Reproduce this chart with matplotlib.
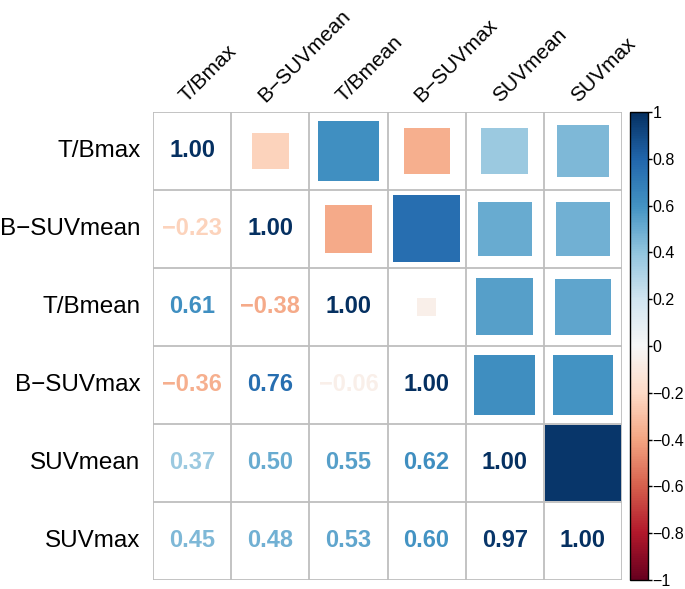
import numpy as np
import matplotlib.pyplot as plt
from matplotlib.patches import Rectangle
from matplotlib.colors import Normalize
import matplotlib as mpl

plt.rcParams['font.family'] = ['Liberation Sans', 'DejaVu Sans']

labels = ['T/Bmax', 'B\u2212SUVmean', 'T/Bmean', 'B\u2212SUVmax', 'SUVmean', 'SUVmax']

# lower triangle of the correlation matrix (row by row)
lower = [
    [],
    [-0.23],
    [0.61, -0.38],
    [-0.36, 0.76, -0.06],
    [0.37, 0.50, 0.55, 0.62],
    [0.45, 0.48, 0.53, 0.60, 0.97],
]

n = len(labels)
corr = np.eye(n)
for i, row in enumerate(lower):
    for j, v in enumerate(row):
        corr[i, j] = v
        corr[j, i] = v

cmap = plt.get_cmap('RdBu')
norm = Normalize(-1, 1)

fig = plt.figure(figsize=(6.85, 5.89), dpi=100)
ax = fig.add_axes([0.2234, 0.0153, 0.6847, 0.7946])
ax.set_xlim(0, n)
ax.set_ylim(n, 0)
ax.axis('off')

# grid
for k in range(n + 1):
    ax.plot([k, k], [0, n], color='#BEBEBE', lw=1.3, zorder=1)
    ax.plot([0, n], [k, k], color='#BEBEBE', lw=1.3, zorder=1)

for i in range(n):
    for j in range(n):
        r = corr[i, j]
        c = cmap(norm(r))
        if j <= i:
            ax.text(j + 0.5, i + 0.5, '%.2f' % r if r >= 0 else '\u2212%.2f' % abs(r),
                    ha='center', va='center', fontsize=17, fontweight='bold', color=c, zorder=3)
        else:
            s = np.sqrt(abs(r)) * 0.985
            ax.add_patch(Rectangle((j + 0.5 - s / 2, i + 0.5 - s / 2), s, s,
                                   facecolor=c, edgecolor='none', zorder=2))

# labels
for k, lab in enumerate(labels):
    ax.text(-0.16, k + 0.5, lab, ha='right', va='center', fontsize=17.5)
    ax.text(k + 0.47, -0.08, lab, ha='left', va='bottom', rotation=45,
            rotation_mode='anchor', fontsize=15)

# colorbar
cax = fig.add_axes([0.9197, 0.0153, 0.0263, 0.7946])
cb = mpl.colorbar.ColorbarBase(cax, cmap=cmap, norm=norm, orientation='vertical')
ticks = [-1, -0.8, -0.6, -0.4, -0.2, 0, 0.2, 0.4, 0.6, 0.8, 1]
cb.set_ticks(ticks)
cb.set_ticklabels(['\u22121', '\u22120.8', '\u22120.6', '\u22120.4', '\u22120.2', '0',
                   '0.2', '0.4', '0.6', '0.8', '1'])
cax.tick_params(labelsize=11.5, length=3, width=1, pad=0.3)
cb.outline.set_linewidth(1)

fig.savefig('out.png', dpi=100)
